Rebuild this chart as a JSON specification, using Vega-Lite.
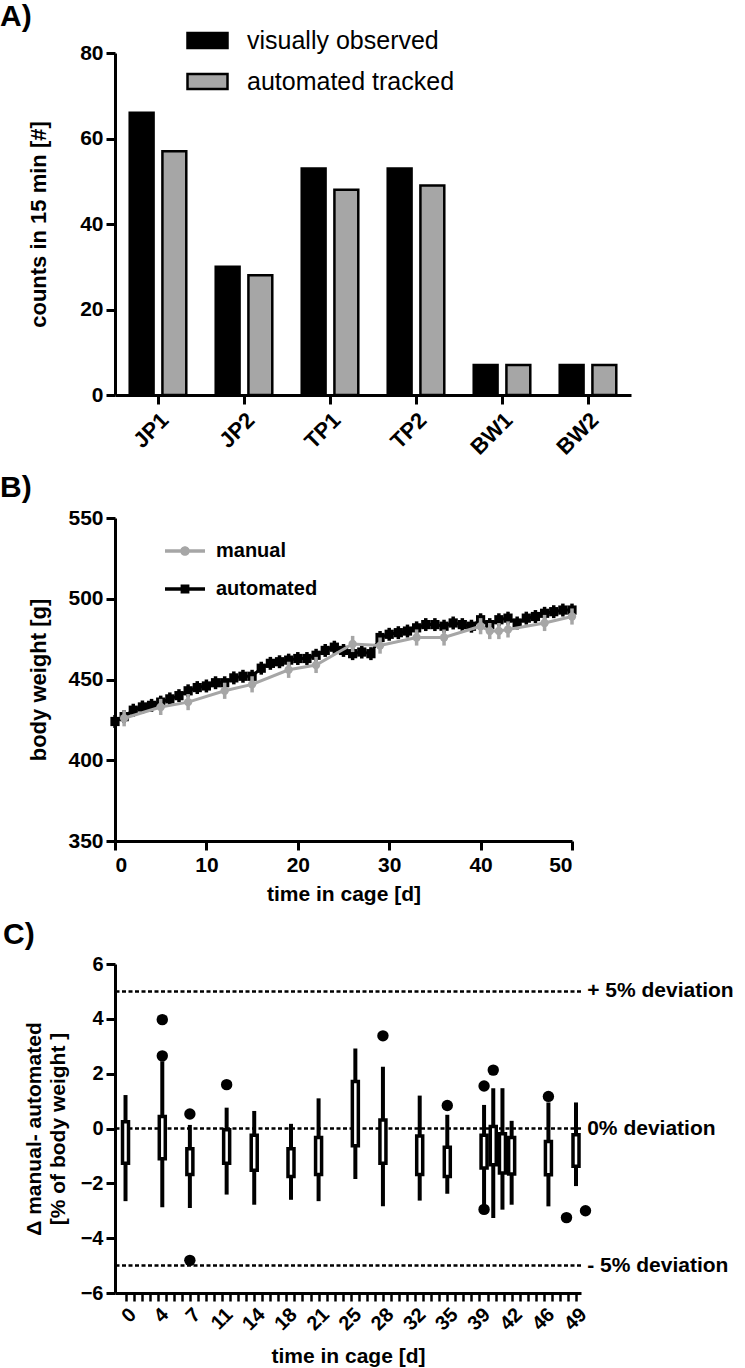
{
  "$schema": "https://vega.github.io/schema/vega-lite/v6.json",
  "background": "white",
  "padding": {"top": 2, "left": 0, "right": 0, "bottom": 0},
  "spacing": 123,
  "bounds": "flush",
  "resolve": {"scale": {"color": "independent"}, "legend": {"color": "independent"}},
  "config": {
    "font": "Liberation Sans",
    "view": {"stroke": null},
    "axis": {
      "domainColor": "black", "domainWidth": 3, "tickColor": "black", "tickWidth": 3, "tickSize": 9,
      "labelColor": "black", "labelFontSize": 21, "labelFontWeight": "bold", "labelFont": "Liberation Sans", "labelPadding": 3,
      "titleColor": "black", "titleFontSize": 22, "titleFontWeight": "bold", "titleFont": "Liberation Sans", "grid": false
    },
    "legend": {"labelLimit": 0},
    "title": {"color": "black", "fontSize": 30, "fontWeight": "bold", "font": "Liberation Sans", "anchor": "start", "frame": "group"}
  },
  "vconcat": [
    {
      "title": {"text": "A)", "dx": -115, "offset": -13},
      "width": 516,
      "height": 342,
      "data": {"values": [
        {"behavior": "JP1", "method": "visually observed", "count": 66},
        {"behavior": "JP1", "method": "automated tracked", "count": 57},
        {"behavior": "JP2", "method": "visually observed", "count": 30},
        {"behavior": "JP2", "method": "automated tracked", "count": 28},
        {"behavior": "TP1", "method": "visually observed", "count": 53},
        {"behavior": "TP1", "method": "automated tracked", "count": 48},
        {"behavior": "TP2", "method": "visually observed", "count": 53},
        {"behavior": "TP2", "method": "automated tracked", "count": 49},
        {"behavior": "BW1", "method": "visually observed", "count": 7},
        {"behavior": "BW1", "method": "automated tracked", "count": 7},
        {"behavior": "BW2", "method": "visually observed", "count": 7},
        {"behavior": "BW2", "method": "automated tracked", "count": 7}
      ]},
      "mark": {"type": "bar", "stroke": "black", "strokeWidth": 2.5},
      "encoding": {
        "x": {"field": "behavior", "type": "nominal", "sort": ["JP1", "JP2", "TP1", "TP2", "BW1", "BW2"],
          "scale": {"paddingInner": 0, "paddingOuter": 0},
          "axis": {"title": null, "labelAngle": -45, "labelAlign": "right", "labelBaseline": "top", "labelPadding": 5, "labelFontSize": 22}},
        "xOffset": {"field": "method", "type": "nominal", "sort": ["visually observed", "automated tracked"],
          "scale": {"paddingInner": 0.27, "paddingOuter": 0.45}},
        "y": {"field": "count", "type": "quantitative", "scale": {"domain": [0, 80], "nice": false},
          "axis": {"values": [0, 20, 40, 60, 80], "title": "counts in 15 min [#]", "titlePadding": 29}},
        "color": {"field": "method", "type": "nominal", "sort": ["visually observed", "automated tracked"],
          "scale": {"domain": ["visually observed", "automated tracked"], "range": ["#000000", "#a6a6a6"]},
          "legend": {"orient": "none", "legendX": 71, "legendY": -34, "title": null, "direction": "vertical",
            "symbolType": "M-1,-0.37H1V0.37H-1Z", "symbolSize": 1600, "symbolStrokeColor": "black", "symbolStrokeWidth": 2.5,
            "symbolOpacity": 1, "labelFontSize": 25, "labelFont": "Liberation Sans", "labelColor": "black", "labelOffset": 18,
            "labelLimit": 0, "rowPadding": 6, "padding": 0}}
      }
    },
    {
      "title": {"text": "B)", "dx": -115},
      "width": 457,
      "height": 323,
      "data": {"values": [
        {"series": "automated", "day": 0, "w": 424, "lo": 420, "hi": 428},
        {"series": "automated", "day": 1, "w": 427, "lo": 423, "hi": 431},
        {"series": "automated", "day": 2, "w": 431, "lo": 427, "hi": 435},
        {"series": "automated", "day": 3, "w": 433, "lo": 429, "hi": 437},
        {"series": "automated", "day": 4, "w": 434, "lo": 430, "hi": 438},
        {"series": "automated", "day": 5, "w": 436, "lo": 432, "hi": 440},
        {"series": "automated", "day": 6, "w": 438, "lo": 434, "hi": 442},
        {"series": "automated", "day": 7, "w": 440, "lo": 436, "hi": 444},
        {"series": "automated", "day": 8, "w": 443, "lo": 439, "hi": 447},
        {"series": "automated", "day": 9, "w": 445, "lo": 441, "hi": 449},
        {"series": "automated", "day": 10, "w": 446, "lo": 442, "hi": 450},
        {"series": "automated", "day": 11, "w": 448, "lo": 444, "hi": 452},
        {"series": "automated", "day": 12, "w": 448, "lo": 444, "hi": 452},
        {"series": "automated", "day": 13, "w": 451, "lo": 447, "hi": 455},
        {"series": "automated", "day": 14, "w": 452, "lo": 448, "hi": 456},
        {"series": "automated", "day": 15, "w": 452, "lo": 448, "hi": 456},
        {"series": "automated", "day": 16, "w": 457, "lo": 453, "hi": 461},
        {"series": "automated", "day": 17, "w": 460, "lo": 456, "hi": 464},
        {"series": "automated", "day": 18, "w": 461, "lo": 457, "hi": 465},
        {"series": "automated", "day": 19, "w": 462, "lo": 458, "hi": 466},
        {"series": "automated", "day": 20, "w": 463, "lo": 459, "hi": 467},
        {"series": "automated", "day": 21, "w": 463, "lo": 459, "hi": 467},
        {"series": "automated", "day": 22, "w": 465, "lo": 461, "hi": 469},
        {"series": "automated", "day": 23, "w": 468, "lo": 464, "hi": 472},
        {"series": "automated", "day": 24, "w": 470, "lo": 466, "hi": 474},
        {"series": "automated", "day": 25, "w": 468, "lo": 464, "hi": 472},
        {"series": "automated", "day": 26, "w": 466, "lo": 462, "hi": 470},
        {"series": "automated", "day": 27, "w": 467, "lo": 463, "hi": 471},
        {"series": "automated", "day": 28, "w": 466, "lo": 462, "hi": 470},
        {"series": "automated", "day": 29, "w": 476, "lo": 472, "hi": 480},
        {"series": "automated", "day": 30, "w": 478, "lo": 474, "hi": 482},
        {"series": "automated", "day": 31, "w": 479, "lo": 475, "hi": 483},
        {"series": "automated", "day": 32, "w": 480, "lo": 476, "hi": 484},
        {"series": "automated", "day": 33, "w": 482, "lo": 478, "hi": 486},
        {"series": "automated", "day": 34, "w": 484, "lo": 480, "hi": 488},
        {"series": "automated", "day": 35, "w": 484, "lo": 480, "hi": 488},
        {"series": "automated", "day": 36, "w": 483, "lo": 479, "hi": 487},
        {"series": "automated", "day": 37, "w": 485, "lo": 481, "hi": 489},
        {"series": "automated", "day": 38, "w": 484, "lo": 480, "hi": 488},
        {"series": "automated", "day": 39, "w": 483, "lo": 479, "hi": 487},
        {"series": "automated", "day": 40, "w": 487, "lo": 483, "hi": 491},
        {"series": "automated", "day": 41, "w": 484, "lo": 480, "hi": 488},
        {"series": "automated", "day": 42, "w": 487, "lo": 483, "hi": 491},
        {"series": "automated", "day": 43, "w": 488, "lo": 484, "hi": 492},
        {"series": "automated", "day": 44, "w": 485, "lo": 481, "hi": 489},
        {"series": "automated", "day": 45, "w": 488, "lo": 484, "hi": 492},
        {"series": "automated", "day": 46, "w": 489, "lo": 485, "hi": 493},
        {"series": "automated", "day": 47, "w": 491, "lo": 487, "hi": 495},
        {"series": "automated", "day": 48, "w": 492, "lo": 488, "hi": 496},
        {"series": "automated", "day": 49, "w": 493, "lo": 489, "hi": 497},
        {"series": "automated", "day": 50, "w": 493, "lo": 489, "hi": 497},
        {"series": "manual", "day": 1, "w": 426, "lo": 421, "hi": 431},
        {"series": "manual", "day": 5, "w": 433, "lo": 428, "hi": 438},
        {"series": "manual", "day": 8, "w": 436, "lo": 431, "hi": 441},
        {"series": "manual", "day": 12, "w": 443, "lo": 438, "hi": 448},
        {"series": "manual", "day": 15, "w": 447, "lo": 442, "hi": 452},
        {"series": "manual", "day": 19, "w": 456, "lo": 451, "hi": 461},
        {"series": "manual", "day": 22, "w": 459, "lo": 454, "hi": 464},
        {"series": "manual", "day": 26, "w": 472, "lo": 467, "hi": 477},
        {"series": "manual", "day": 29, "w": 471, "lo": 466, "hi": 476},
        {"series": "manual", "day": 33, "w": 476, "lo": 471, "hi": 481},
        {"series": "manual", "day": 36, "w": 476, "lo": 471, "hi": 481},
        {"series": "manual", "day": 40, "w": 483, "lo": 478, "hi": 488},
        {"series": "manual", "day": 41, "w": 480, "lo": 475, "hi": 485},
        {"series": "manual", "day": 42, "w": 480, "lo": 475, "hi": 485},
        {"series": "manual", "day": 43, "w": 481, "lo": 476, "hi": 486},
        {"series": "manual", "day": 47, "w": 485, "lo": 480, "hi": 490},
        {"series": "manual", "day": 50, "w": 489, "lo": 484, "hi": 494}
      ]},
      "encoding": {
        "x": {"field": "day", "type": "quantitative", "title": "time in cage [d]",
          "scale": {"domain": [0, 50], "nice": false, "zero": false},
          "axis": {"values": [0, 10, 20, 30, 40, 50], "titleFontSize": 21, "titlePadding": 8, "labelPadding": 4}},
        "color": {"field": "series", "type": "nominal",
          "scale": {"domain": ["manual", "automated"], "range": ["#a6a6a6", "#000000"]},
          "legend": {"orient": "none", "legendX": 50, "legendY": 13, "title": null, "symbolSize": 1600,
            "labelFontSize": 20, "labelFontWeight": "bold", "labelColor": "black", "labelOffset": 11, "rowPadding": 8, "padding": 0, "labelLimit": 0,
            "encode": {"symbols": {"update": {
              "shape": {"signal": "datum.value === 'manual' ? 'M-1,-0.09H1V0.09H-1Z M0.24,0A0.24,0.24,0,1,1,-0.24,0A0.24,0.24,0,1,1,0.24,0Z' : 'M-1,-0.09H1V0.09H-1Z M-0.22,-0.22H0.22V0.22H-0.22Z'"},
              "fill": {"signal": "datum.value === 'manual' ? '#a6a6a6' : '#000000'"},
              "stroke": {"value": "transparent"},
              "strokeWidth": {"value": 0},
              "size": {"value": 1600},
              "opacity": {"value": 1}
            }}}}}
      },
      "layer": [
        {"transform": [{"filter": "datum.series === 'automated'"}],
         "mark": {"type": "rule", "strokeWidth": 3.5},
         "encoding": {"y": {"field": "lo", "type": "quantitative", "title": "body weight [g]",
           "scale": {"domain": [350, 550], "nice": false, "zero": false},
           "axis": {"values": [350, 400, 450, 500, 550], "titlePadding": 17}},
           "y2": {"field": "hi"}}},
        {"transform": [{"filter": "datum.series === 'automated'"}],
         "mark": {"type": "line", "strokeWidth": 3},
         "encoding": {"y": {"field": "w", "type": "quantitative", "title": "body weight [g]"}}},
        {"transform": [{"filter": "datum.series === 'automated'"}],
         "mark": {"type": "point", "filled": true, "shape": "square", "size": 85, "opacity": 1},
         "encoding": {"y": {"field": "w", "type": "quantitative", "title": "body weight [g]"}}},
        {"transform": [{"filter": "datum.series === 'manual'"}],
         "mark": {"type": "rule", "strokeWidth": 3.5},
         "encoding": {"y": {"field": "lo", "type": "quantitative", "title": "body weight [g]"}, "y2": {"field": "hi"}}},
        {"transform": [{"filter": "datum.series === 'manual'"}],
         "mark": {"type": "line", "strokeWidth": 3},
         "encoding": {"y": {"field": "w", "type": "quantitative", "title": "body weight [g]"}}},
        {"transform": [{"filter": "datum.series === 'manual'"}],
         "mark": {"type": "point", "filled": true, "shape": "circle", "size": 70, "opacity": 1},
         "encoding": {"y": {"field": "w", "type": "quantitative", "title": "body weight [g]"}}}
      ]
    },
    {
      "title": {"text": "C)", "dx": -112},
      "width": 466,
      "height": 329,
      "resolve": {"axis": {"x": "independent"}},
      "layer": [
        {"data": {"values": [
          {"y": 5, "label": "+ 5% deviation"},
          {"y": 0, "label": "0% deviation"},
          {"y": -5, "label": "- 5% deviation"}
         ]},
         "mark": {"type": "rule", "strokeDash": [4, 2.5], "strokeWidth": 2.5, "color": "black"},
         "encoding": {"y": {"field": "y", "type": "quantitative", "title": ["Δ manual- automated", "[% of body weight ]"],
           "scale": {"domain": [-6, 6], "nice": false, "zero": false},
           "axis": {"values": [-6, -4, -2, 0, 2, 4, 6], "labelFontSize": 20, "titleFontSize": 21, "titleLineHeight": 24, "titlePadding": 12}}}},
        {"data": {"values": [
          {"y": 5, "label": "+ 5% deviation"},
          {"y": 0, "label": "0% deviation"},
          {"y": -5, "label": "- 5% deviation"}
         ]},
         "mark": {"type": "text", "align": "left", "baseline": "middle", "dx": 2, "fontSize": 21, "fontWeight": "bold", "font": "Liberation Sans", "color": "black"},
         "encoding": {"x": {"datum": 50, "type": "quantitative", "axis": null},
           "y": {"field": "y", "type": "quantitative", "title": ["Δ manual- automated", "[% of body weight ]"]},
           "text": {"field": "label"}}},
        {"data": {"name": "boxes", "values": [
          {"day": 0, "lo": -2.65, "q1": -1.27, "q3": 0.25, "hi": 1.22},
          {"day": 4, "lo": -2.87, "q1": -1.1, "q3": 0.44, "hi": 2.45},
          {"day": 7, "lo": -2.9, "q1": -1.68, "q3": -0.74, "hi": 0.13},
          {"day": 11, "lo": -2.41, "q1": -1.27, "q3": -0.05, "hi": 0.76},
          {"day": 14, "lo": -2.78, "q1": -1.52, "q3": -0.25, "hi": 0.64},
          {"day": 18, "lo": -2.6, "q1": -1.75, "q3": -0.74, "hi": 0.17},
          {"day": 21, "lo": -2.65, "q1": -1.68, "q3": -0.33, "hi": 1.1},
          {"day": 25, "lo": -1.84, "q1": -0.63, "q3": 1.71, "hi": 2.92},
          {"day": 28, "lo": -2.84, "q1": -1.27, "q3": 0.31, "hi": 2.25},
          {"day": 32, "lo": -2.63, "q1": -1.68, "q3": -0.27, "hi": 1.2},
          {"day": 35, "lo": -2.38, "q1": -1.75, "q3": -0.68, "hi": 0.5},
          {"day": 39, "lo": -2.8, "q1": -1.44, "q3": -0.25, "hi": 0.86},
          {"day": 40, "lo": -3.26, "q1": -1.32, "q3": 0.07, "hi": 1.47},
          {"day": 41, "lo": -2.96, "q1": -1.62, "q3": -0.19, "hi": 1.47},
          {"day": 42, "lo": -2.78, "q1": -1.66, "q3": -0.33, "hi": 0.28},
          {"day": 46, "lo": -2.84, "q1": -1.69, "q3": -0.47, "hi": 0.95},
          {"day": 49, "lo": -2.1, "q1": -1.38, "q3": -0.23, "hi": 0.95}
         ]},
         "mark": {"type": "rule", "strokeWidth": 4, "color": "black"},
         "encoding": {"x": {"field": "day", "type": "quantitative",
           "scale": {"domain": [-0.6, 49], "nice": false, "zero": false},
           "axis": {"orient": "bottom", "title": null, "labels": false, "tickSize": 8, "tickWidth": 2.5,
             "values": [0, 0.875, 1.75, 2.625, 3.5, 4.375, 5.25, 6.125, 7, 7.875, 8.75, 9.625, 10.5, 11.375, 12.25, 13.125, 14, 14.875, 15.75, 16.625, 17.5, 18.375, 19.25, 20.125, 21, 21.875, 22.75, 23.625, 24.5, 25.375, 26.25, 27.125, 28, 28.875, 29.75, 30.625, 31.5, 32.375, 33.25, 34.125, 35, 35.875, 36.75, 37.625, 38.5, 39.375, 40.25, 41.125, 42, 42.875, 43.75, 44.625, 45.5, 46.375, 47.25, 48.125, 49]}},
           "y": {"field": "lo", "type": "quantitative", "title": ["Δ manual- automated", "[% of body weight ]"]},
           "y2": {"field": "hi"}}},
        {"data": {"name": "boxes"},
         "mark": {"type": "bar", "size": 6, "fill": "white", "stroke": "black", "strokeWidth": 3.5},
         "encoding": {"x": {"field": "day", "type": "quantitative", "title": "time in cage [d]",
           "axis": {"orient": "bottom", "domain": false, "ticks": true, "tickOpacity": 0, "tickSize": 8,
             "values": [0, 3.5, 7, 10.5, 14, 17.5, 21, 24.5, 28, 31.5, 35, 38.5, 42, 45.5, 49],
             "labelExpr": "format(round(datum.value), 'd')",
             "labelOverlap": false, "labelFlush": false, "labelAngle": -45, "labelAlign": "right", "labelBaseline": "top",
             "labelFontSize": 20, "labelPadding": 3, "titleFontSize": 21, "titlePadding": 12}},
           "y": {"field": "q1", "type": "quantitative", "title": ["Δ manual- automated", "[% of body weight ]"]},
           "y2": {"field": "q3"}}},
        {"data": {"values": [
          {"day": 4, "v": 2.65, "side": 0},
          {"day": 4, "v": 3.97, "side": 0},
          {"day": 7, "v": 0.53, "side": 0},
          {"day": 7, "v": -4.81, "side": 0},
          {"day": 11, "v": 1.6, "side": 0},
          {"day": 28, "v": 3.38, "side": 0},
          {"day": 35, "v": 0.84, "side": 0},
          {"day": 39, "v": 1.55, "side": 0},
          {"day": 39, "v": -2.95, "side": 0},
          {"day": 40, "v": 2.13, "side": 0},
          {"day": 46, "v": 1.17, "side": 0},
          {"day": 49, "v": -3.25, "side": -1},
          {"day": 49, "v": -3.0, "side": 1}
         ]},
         "mark": {"type": "circle", "size": 130, "color": "black", "opacity": 1, "xOffset": {"expr": "datum.side * 9.5"}},
         "encoding": {"x": {"field": "day", "type": "quantitative", "axis": null},
           "y": {"field": "v", "type": "quantitative", "title": ["Δ manual- automated", "[% of body weight ]"]}}}
      ]
    }
  ]
}
